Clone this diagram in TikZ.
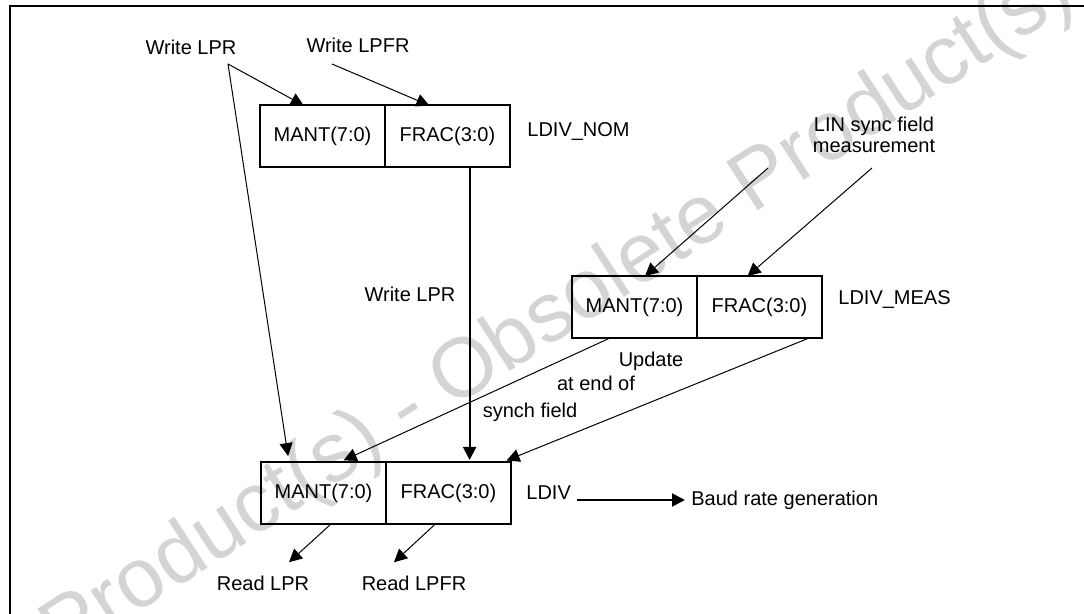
\documentclass[tikz,border=0pt]{standalone}
\usepackage{fontspec}
\setmainfont{Liberation Sans}
\usepackage{tikz}
\usetikzlibrary{arrows.meta,positioning,calc}
\usepackage{xcolor}
\definecolor{ink}{RGB}{0,0,0}
\definecolor{wmark}{RGB}{212,212,212}
\tikzset{
  cell/.style={draw=ink,line width=1pt,minimum width=62.5pt,minimum height=31pt,
    inner sep=0pt,outer sep=0pt,font=\fontsize{10}{11}\selectfont},
  lbl/.style={font=\fontsize{10}{10.5}\selectfont,inner sep=3pt,align=center},
  arr/.style={-{Triangle[length=6.5pt,width=6.5pt]},line width=0.5pt,ink},
  barr/.style={-{Triangle[length=6.5pt,width=6.5pt]},line width=1pt,ink},
  outline/.style={line width=1pt,ink},
}

\begin{document}
\begin{tikzpicture}[x=0.5pt,y=-0.5pt]
  \useasboundingbox (0,0) rectangle (1084,614);
  % watermark
  \node[rotate=33,text=wmark,font=\fontsize{42}{42}\selectfont] (wmk) at (408,412)
    {Obsolete Product(s) - Obsolete Product(s)};
  \draw[outline] (10,614) -- (10,6) -- (1084,6);
  % registers
  \node[cell] (nomM) at (322.5,136.5) {MANT(7:0)};
  \node[cell,right=0pt of nomM] (nomF) {FRAC(3:0)};
  \node[lbl,anchor=west] (nomL) at (521,132) {LDIV\_NOM};
  \node[cell] (measM) at (634.5,307) {MANT(7:0)};
  \node[cell,right=0pt of measM] (measF) {FRAC(3:0)};
  \node[lbl,anchor=west] (measL) at (832,300) {LDIV\_MEAS};
  \node[cell] (ldM) at (323.5,493) {MANT(7:0)};
  \node[cell,right=0pt of ldM] (ldF) {FRAC(3:0)};
  \node[lbl,anchor=west] (ldL) at (520,493) {LDIV};
  \node[lbl,anchor=west] (baud) at (685,500) {Baud rate generation};
  % labels
  \node[lbl] (wlpr) at (191,47) {Write LPR};
  \node[lbl] (wlpfr) at (358,45) {Write LPFR};
  \node[lbl] (lin) at (874,135) {LIN sync field\\measurement};
  \node[lbl] (wlprV) at (410,294) {Write LPR};
  \node[lbl] (upd1) at (651,361) {Update};
  \node[lbl] (upd2) at (596,383) {at end of};
  \node[lbl] (upd3) at (530,412) {synch field};
  \node[lbl] (rlpr) at (263,583) {Read LPR};
  \node[lbl] (rlpfr) at (414,583) {Read LPFR};
  \coordinate (wlprA) at (228,64);
  \coordinate (wlpfrA) at (332,64);
  \coordinate (linA) at (768,168);
  \coordinate (linB) at (872,168);
  % writes
  \draw[arr] (wlprA) -- ($(nomM.north west)!0.35!(nomM.north east)$);
  \draw[arr,shorten >=3pt] (wlprA) -- ($(ldM.north west)!0.224!(ldM.north east)$);
  \draw[arr] (wlpfrA) -- ($(nomF.north west)!0.355!(nomF.north east)$);
  \coordinate (drop) at ($(nomF.south west)!0.677!(nomF.south east)$);
  \draw[barr,shorten >=1pt] (drop) -- (drop |- ldF.north);
  \draw[arr] (linA) -- ($(measM.north west)!0.584!(measM.north east)$);
  \draw[arr] (linB) -- ($(measF.north west)!0.405!(measF.north east)$);
  % update
  \draw[arr,shorten >=2pt] ($(measM.south west)!0.304!(measM.south east)$)
    -- ($(ldM.north west)!0.632!(ldM.north east)$);
  \draw[arr,shorten >=2pt] ($(measF.south west)!0.897!(measF.south east)$)
    -- ($(ldF.north west)!0.935!(ldF.north east)$);
  % reads
  \draw[arr] ($(ldM.south west)!0.56!(ldM.south east)$) -- ([xshift=13pt,yshift=3.5pt]rlpr.north);
  \draw[arr] ($(ldF.south west)!0.395!(ldF.south east)$) -- ([xshift=-10pt,yshift=3.5pt]rlpfr.north);
  \draw[barr] (ldL.east |- baud.west) -- (baud.west);
\end{tikzpicture}
\end{document}
